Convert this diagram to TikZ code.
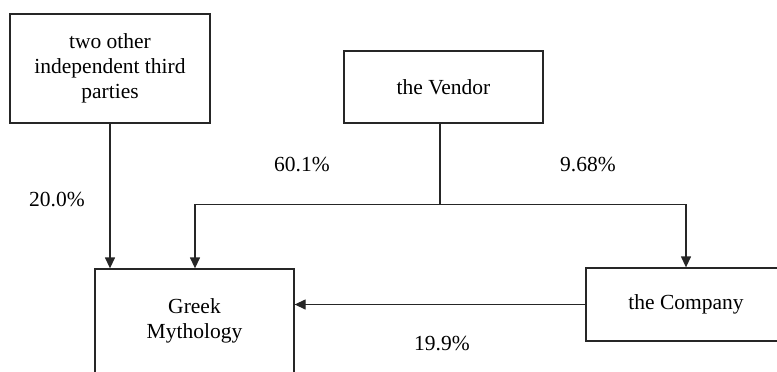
\documentclass[tikz,border=0pt]{standalone}
\usepackage{fontspec}
\setmainfont{Liberation Serif}
\usetikzlibrary{arrows.meta}
\begin{document}
\begin{tikzpicture}[x=1pt,y=-1pt,
  box/.style={draw=black!85,line width=1.3pt,inner sep=0pt,align=center,
    font=\fontsize{21.5}{25}\selectfont},
  lbl/.style={inner sep=0pt,font=\fontsize{21.5}{25}\selectfont},
  conn/.style={draw=black!85,line width=1.3pt},
  arr/.style={conn,-{Triangle[length=11pt,width=10pt]}}]
\useasboundingbox (0,0) rectangle (777,372);
\clip (0,0) rectangle (777,372);
\node[box,minimum width=200pt,minimum height=109pt] (tp) at (110,68.5) {two other\\independent third\\parties};
\node[box,minimum width=199pt,minimum height=72pt] (vendor) at (443.5,87) {the Vendor};
\node[box,minimum width=199pt,minimum height=106pt] (greek) at (194.5,322) {};
\node[align=center,font=\fontsize{21.5}{25}\selectfont] (greektxt) at (194.5,321) {Greek\\Mythology};
\node[box,minimum width=200pt,minimum height=73pt] (company) at (686,304.5) {the Company};
\coordinate (vdown) at (440,123);
\coordinate (junc) at (440,204.5);
\coordinate (jl) at (195,204.5);
\coordinate (jr) at (686,204.5);
\draw[arr] (tp.south) -- (tp.south |- greek.north);
\draw[conn] (vdown) -- (junc);
\draw[arr] (junc) -- (jl) -- (jl |- greek.north);
\draw[arr] (junc) -- (jr) -- (company.north);
\draw[arr] (company.west) -- (company.west -| greek.east);
\node[lbl] (l20) at (57,200) {20.0\%};
\node[lbl] (l60) at (302,165) {60.1\%};
\node[lbl] (l968) at (588,165) {9.68\%};
\node[lbl] (l199) at (442,343) {19.9\%};
\end{tikzpicture}
\end{document}
